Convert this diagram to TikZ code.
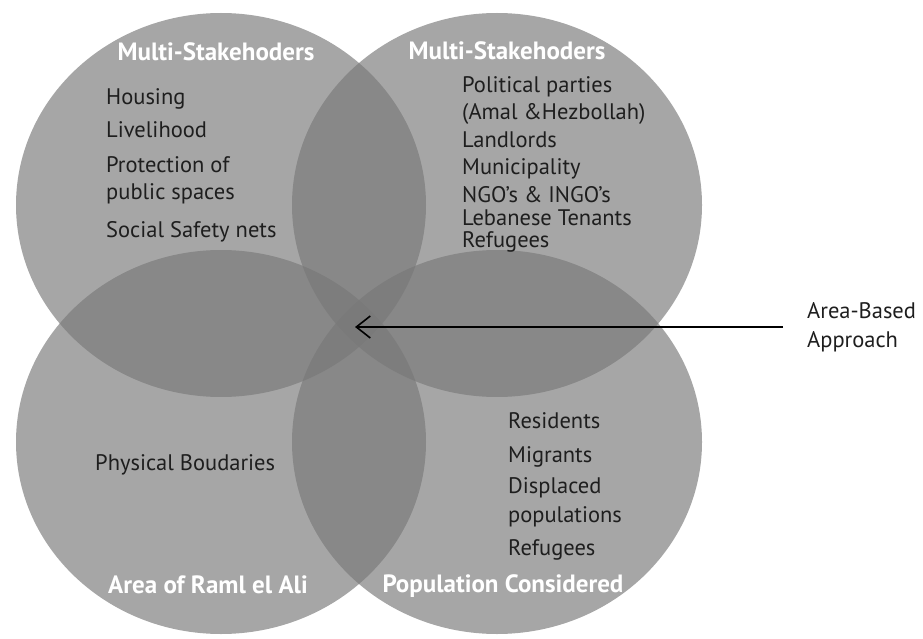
\documentclass[tikz,border=0pt]{standalone}
\usepackage{fontspec}
\setmainfont{PT Sans}
\usetikzlibrary{arrows.meta,shapes.geometric}
\definecolor{vennfill}{RGB}{120,120,120}
\definecolor{inkdark}{RGB}{30,30,30}
\begin{document}
\begin{tikzpicture}[x=1pt,y=-1pt,
  setdisc/.style={ellipse, minimum width=410pt, minimum height=384pt,
    inner sep=0pt, draw=none, fill=vennfill, fill opacity=0.66},
  settitle/.style={text=white, anchor=base,
    font=\bfseries\fontsize{25}{30}\selectfont},
  listitem/.style={text=inkdark, anchor=base west, inner sep=0pt,
    font=\fontsize{22.5}{27}\selectfont},
  pointer/.style={draw=black, line width=1.8pt,
    -{Straight Barb[length=14pt,width=22pt,line width=1.6pt]}}
]
\useasboundingbox (0,0) rectangle (923,639);

% the four overlapping sets
\node[setdisc] (tl) at (221,205) {};
\node[setdisc] (tr) at (497,205) {};
\node[setdisc] (bl) at (221,442) {};
\node[setdisc] (br) at (497,442) {};

% set titles
\node[settitle] (tltitle) at (216,61)  {Multi-Stakehoders};
\node[settitle] (trtitle) at (507,60)  {Multi-Stakehoders};
\node[settitle] (bltitle) at (208,593) {Area of Raml el Ali};
\node[settitle] (brtitle) at (503,592) {Population Considered};

% contents of each set
\foreach \txt/\yy [count=\i] in {Housing/105, Livelihood/138,
    Protection of/173, public spaces/200, Social Safety nets/237}
  \node[listitem] (tlitem\i) at (106,\yy) {\txt};
\foreach \txt/\yy [count=\i] in {Political parties/93,
    (Amal \&Hezbollah)/120, Landlords/148, Municipality/175,
    NGO’s \& INGO’s/202, Lebanese Tenants/225, Refugees/247}
  \node[listitem] (tritem\i) at (462,\yy) {\txt};
\node[listitem] (blitem1) at (95,470) {Physical Boudaries};
\foreach \txt/\yy [count=\i] in {Residents/428, Migrants/462,
    Displaced/493, populations/522, Refugees/555}
  \node[listitem] (britem\i) at (508,\yy) {\txt};

% common centre and its label
\coordinate (hub) at (355,327);
\node[text=inkdark, anchor=west, align=left, inner sep=0pt,
  font=\fontsize{22.5}{29}\selectfont] (aba) at (807,327)
  {Area-Based\\Approach};
\draw[pointer, shorten <=24pt] (aba.west) -- (hub);
\end{tikzpicture}
\end{document}
